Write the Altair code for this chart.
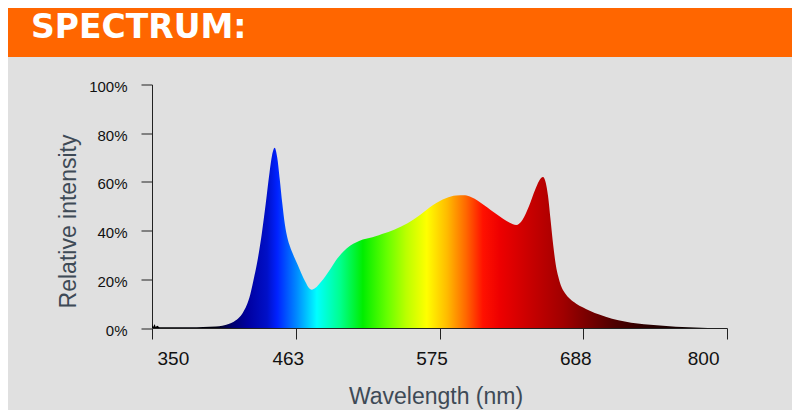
import altair as alt
import pandas as pd

header_text = "SPECTRUM:"

# spectrum (wavelength nm, relative intensity %)
wavelength = [350, 351, 352, 353, 354, 356, 360, 370, 380, 390, 400, 405, 410, 414,
              418, 421, 424, 427, 430, 433, 436, 439, 442, 444, 446, 448, 450, 452,
              454, 456, 458, 461, 464, 467, 470, 473, 475, 478, 482, 486, 490, 495,
              500, 505, 510, 515, 520, 525, 530, 540, 550, 560, 570, 580, 588, 595,
              600, 605, 610, 615, 620, 625, 630, 635, 640, 645, 650, 653, 656, 658,
              660, 662, 664, 666, 668, 670, 673, 677, 682, 687, 693, 700, 710, 720,
              730, 740, 750, 760, 770, 780, 790, 800]
intensity = [1.8, 0.5, 1.5, 0.4, 0.9, 0.3, 0.3, 0.3, 0.3, 0.4, 0.6, 0.9, 1.6, 2.6,
             4.2, 6.2, 9.2, 14, 21, 29, 39, 51, 64, 71, 74, 70, 61, 51,
             42.5, 37, 33.5, 29.5, 26, 22.3, 19, 16.3, 15.7, 16.5, 18.8, 21.5, 24.5, 28.5,
             31.5, 33.8, 35.2, 36.3, 37, 37.7, 38.6, 40.5, 43, 46.5, 50.5, 53.3, 54.4, 54.5,
             53.7, 52.3, 50.4, 48.5, 46.6, 44.8, 43.2, 42.3, 44.5, 50, 57, 60.5, 62, 60,
             54, 44, 34, 26, 21, 17.5, 14.5, 12, 10, 8.5, 7, 5.5, 3.8, 2.7,
             1.8, 1.3, 0.9, 0.5, 0.3, 0.15, 0.05, 0]

# colour of the fill along the wavelength axis
stop_wl = [350, 400, 413, 425, 440, 448, 463, 479, 497, 515, 534, 549, 565,
           581, 596, 609, 622, 646, 672, 690, 711, 737, 763, 790, 800]
stop_color = ["#000000", "#000010", "#000070", "#0000A0", "#0010C8", "#0022FF",
              "#0088FF", "#00FFFF", "#00FF90", "#00EE00", "#66FF00", "#BBFF00",
              "#FFFF00", "#FFBB00", "#FF6600", "#FF1100", "#EE0000", "#C80000",
              "#A00000", "#7A0000", "#500000", "#2A0000", "#150000", "#050000",
              "#000000"]

x_ticks = [350, 462.5, 575, 687.5, 800]
y_ticks = [0, 20, 40, 60, 80, 100]

df = pd.DataFrame({"wl": wavelength, "v": intensity})
lo, hi = min(wavelength), max(wavelength)
gradient = alt.Gradient(
    gradient="linear",
    stops=[alt.GradientStop(offset=(w - lo) / (hi - lo), color=c)
           for w, c in zip(stop_wl, stop_color)],
    x1=0, x2=1, y1=0, y2=0,
)

area = alt.Chart(df).mark_area(color=gradient, interpolate="monotone").encode(
    x=alt.X("wl:Q", scale=alt.Scale(domain=[350, 800], nice=False),
            axis=alt.Axis(values=x_ticks, format="d", title="Wavelength (nm)",
                          labelFontSize=19, labelPadding=10,
                          labelOffset={"condition": {"test": "datum.value == 350", "value": 5},
                                       "value": -8},
                          titleX=283.5, titleY=75, titleBaseline="alphabetic")),
    y=alt.Y("v:Q", scale=alt.Scale(domain=[0, 100], nice=False),
            axis=alt.Axis(values=y_ticks, labelExpr="datum.value + '%'",
                          title="Relative intensity", labelFontSize=15,
                          labelPadding=14, labelOffset=2,
                          titleX=-77, titleY=136.5, titleBaseline="alphabetic")),
)

head = pd.DataFrame({"t": [header_text]})
band = alt.Chart(head).mark_rect(color="#FF6600").encode(
    x=alt.value(-144), x2=alt.value(640), y=alt.value(-76.5), y2=alt.value(-27.5)
)
label = alt.Chart(head).mark_text(
    align="left", baseline="alphabetic", font="DejaVu Sans", fontWeight="bold",
    fontSize=33, color="white"
).encode(text="t:N", x=alt.value(-121), y=alt.value(-46.8))

chart = alt.layer(band, label, area).properties(
    width=575, height=243.5,
    padding={"left": 144, "top": 76.5, "right": 65, "bottom": 82},
    autosize=alt.AutoSizeParams(type="none"),
    background="#E0E0E0",
).configure_view(strokeWidth=0).configure_axis(
    grid=False, domainColor="#222222", tickColor="#222222", tickSize=11,
    labelFont="Liberation Sans", labelColor="#111111",
    titleFont="Liberation Sans", titleFontSize=23, titleFontWeight="normal",
    titleColor="#3E4A56",
)

chart.save("out.html", embed_options={"renderer": "svg", "actions": False})
